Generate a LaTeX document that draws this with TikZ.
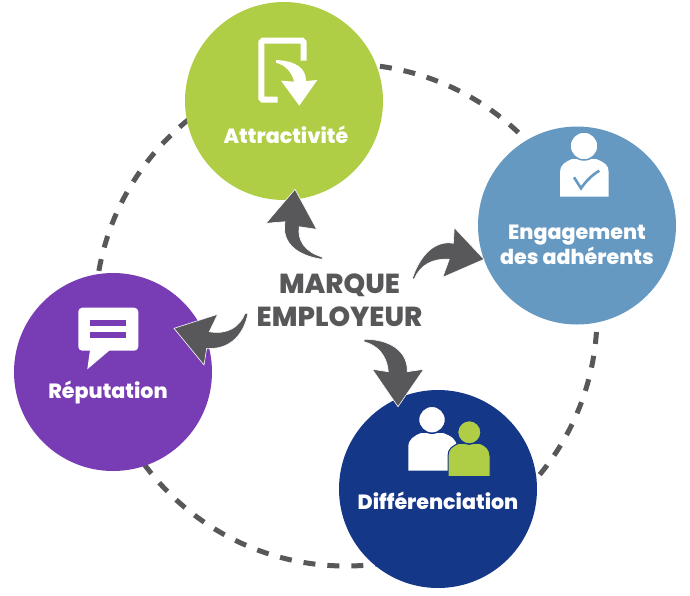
\documentclass[tikz,border=0pt]{standalone}
\usepackage{fontspec}
\setmainfont{Poppins}
\newfontfamily\heavyfont{Poppins ExtraBold}
\definecolor{leafgreen}{HTML}{AFCE45}
\definecolor{steelblue}{HTML}{6699C2}
\definecolor{deepnavy}{HTML}{153788}
\definecolor{royalpurple}{HTML}{783CB4}
\definecolor{slategrey}{HTML}{58585A}
\tikzset{
    pole/.style={circle, inner sep=0pt, minimum size=198pt},
    polelabel/.style={text=white, font=\fontsize{20.6}{24}\heavyfont, anchor=base},
    hublabel/.style={text=slategrey, font=\fontsize{27.5}{32}\heavyfont, anchor=base},
    curvearrow/.style={fill=slategrey, draw=white, line width=0.6pt, line join=miter},
    iconfill/.style={fill=white, draw=none},
}
\begin{document}
\begin{tikzpicture}[x=1pt, y=-1pt]
    \useasboundingbox (0, 0) rectangle (690, 595);

    % Dashed ring behind the poles
    \coordinate (ringcentre) at (346, 315);
    \draw[slategrey, line width=5pt, dash pattern=on 12pt off 12pt, dash phase=7pt] (ringcentre) circle [radius=251];

    % Poles
    \node[pole, fill=leafgreen] (attract) at (284, 101) {};
    \node[pole, fill=steelblue] (engage) at (577, 225.5) {};
    \node[pole, fill=deepnavy] (differ) at (438, 489) {};
    \node[pole, fill=royalpurple] (reput) at (113, 372) {};

    % Attractivite icon
    \draw[white, line width=6pt, rounded corners=1.5pt, line cap=butt] (303.7, 60.7) -- (303.7, 40.7) -- (261.3, 40.7) -- (261.3, 99.7) -- (277.7, 99.7);
    \fill[white] (276, 60) .. controls (296, 61) and (306, 68) .. (306, 81) -- (317.3, 80) -- (299.3, 105.7) -- (281, 80.7) -- (294, 81.7) .. controls (292, 72) and (285, 65) .. (276, 62.7) -- cycle;
    \node[polelabel] (attractlabel) at (286, 143) {Attractivité};

    % Engagement icon
    \path[iconfill] (560, 196.7) -- (560, 172) .. controls (560, 165) and (565, 162) .. (572, 159) -- (596, 159) .. controls (604, 162) and (608.7, 165) .. (608.7, 172) -- (608.7, 196.7) -- cycle;
    \draw[fill=white, draw=steelblue, line width=1.5pt] (584, 146) circle [radius=14];
    \draw[steelblue, line width=2.6pt] (574, 177.3) -- (581, 188.3) .. controls (586, 181) and (592, 175) .. (599.3, 170.7);
    \node[polelabel] (engagelabel) at (577, 239.5) {Engagement};
    \node[polelabel] (engagelabeltwo) at (577, 264.5) {des adhérents};

    % Differenciation icon
    \path[iconfill] (408.3, 470.7) -- (408.3, 447) .. controls (408.3, 439) and (414, 436) .. (421, 433) -- (443, 433) .. controls (451, 436) and (456.7, 439) .. (456.7, 447) -- (456.7, 470.7) -- cycle;
    \draw[fill=white, draw=deepnavy, line width=1.5pt] (432, 419.7) circle [radius=13.5];
    \draw[fill=leafgreen, draw=deepnavy, line width=1pt] (448, 476.7) -- (448, 456) .. controls (448, 449) and (452, 446) .. (459, 443.3) -- (480, 443.3) .. controls (486, 446) and (490, 449) .. (490, 456) -- (490, 476.7) -- cycle;
    \draw[fill=leafgreen, draw=deepnavy, line width=1.5pt] (469.3, 432.3) circle [radius=11.8];
    \node[polelabel] (differlabel) at (438, 509) {Différenciation};

    % Reputation icon
    \fill[white, rounded corners=4pt] (78.3, 307.7) rectangle (138.3, 350.7);
    \fill[white] (90, 350) -- (87.3, 369.3) -- (110, 350) -- cycle;
    \fill[royalpurple] (90.3, 320) rectangle (126, 326);
    \fill[royalpurple] (90.3, 332) rectangle (126, 338.3);
    \node[polelabel] (reputlabel) at (108, 398) {Réputation};

    % Hub text
    \node[hublabel] (hubtop) at (339.5, 293.5) {MARQUE};
    \node[hublabel] (hubbottom) at (339.5, 326) {EMPLOYEUR};

    % Arrows out of the hub
    \draw[curvearrow] (322.3, 259.3) .. controls (300, 256) and (281, 245) .. (285, 221.7) -- (266, 223.3) -- (295, 189.3) -- (316.7, 229.3) -- (299.3, 226.7) .. controls (297, 240) and (305, 252) .. (322, 257) -- cycle;
    \draw[curvearrow] (412.3, 278.7) .. controls (420, 255) and (435, 240) .. (453.3, 243.3) -- (454.3, 227.7) -- (484, 259.3) -- (442.7, 277.3) -- (449.3, 259.3) .. controls (433, 258) and (420, 265) .. (414.3, 279) -- cycle;
    \draw[curvearrow] (248, 313.3) .. controls (243, 338) and (227, 350) .. (206.7, 348.3) -- (204, 365) -- (174, 328.3) -- (217.7, 314.3) -- (209.3, 331.7) .. controls (227, 335) and (240, 327) .. (245, 313.3) -- cycle;
    \draw[curvearrow] (364, 339.3) .. controls (388, 339) and (408, 350) .. (407.3, 371.7) -- (423.7, 369.3) -- (398, 406.7) -- (372.3, 369.3) -- (388.3, 371.7) .. controls (387, 355) and (377, 345) .. (364, 341.7) -- cycle;
\end{tikzpicture}
\end{document}
